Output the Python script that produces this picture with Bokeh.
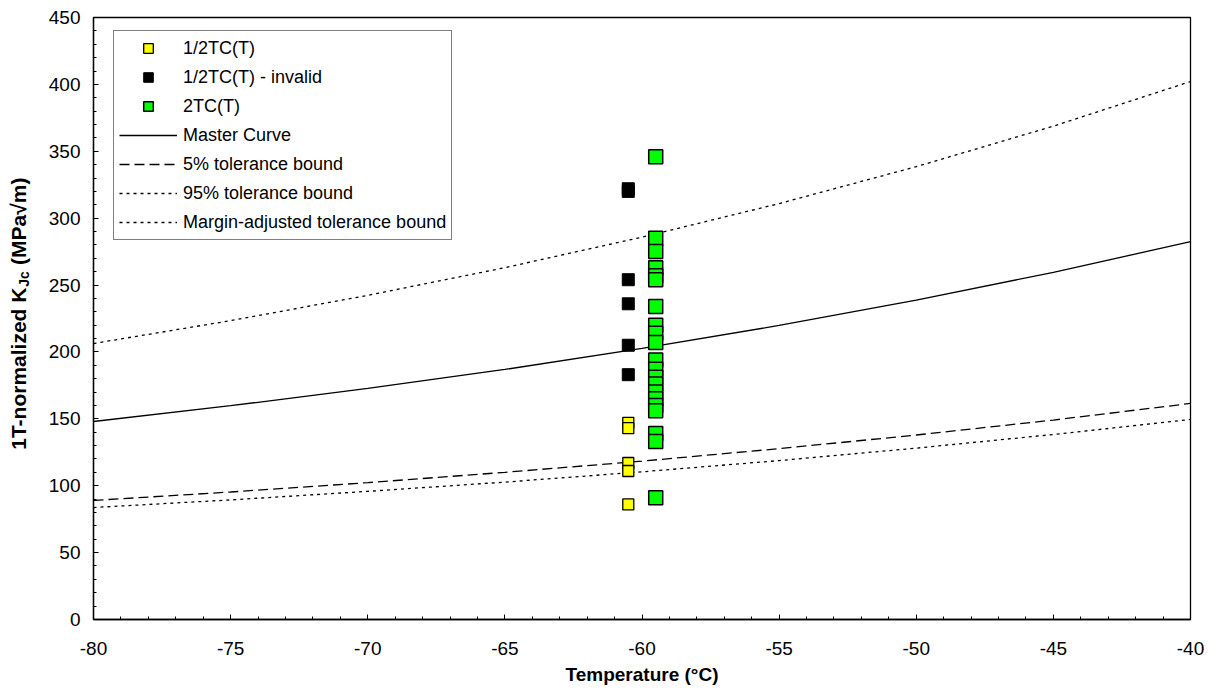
import math
from bokeh.plotting import figure
from bokeh.layouts import row
from bokeh.models import Range1d, FixedTicker, Legend, LegendItem, CustomJSTickFormatter
from bokeh.core.properties import value
from bokeh.embed import file_html
from bokeh.resources import INLINE

# ---- data ----
temp_curve = [-80, -75, -70, -65, -60, -55, -50, -45, -40]
master_curve = [148.0, 159.8, 172.7, 186.9, 202.6, 219.8, 238.7, 259.5, 282.4]
tol_5 = [89.0, 95.3, 102.3, 110.0, 118.4, 127.7, 137.9, 149.1, 161.5]
tol_95 = [206.3, 223.4, 242.3, 263.0, 285.8, 310.9, 338.5, 368.8, 402.1]
margin_adj = [83.7, 89.4, 95.8, 102.7, 110.4, 118.8, 128.1, 138.3, 149.5]

half_t_temp = -60.5
half_t_valid = [147, 143, 117, 111, 86]
half_t_invalid = [322, 320, 254, 236, 205, 183]
two_t_temp = -59.5
two_t = [346, 285, 275, 263, 257, 254, 234, 220, 214, 207, 194, 187, 181,
         176, 170, 165, 160, 156, 139, 133, 91]

x_ticks = [-80, -75, -70, -65, -60, -55, -50, -45, -40]
y_ticks = [0, 50, 100, 150, 200, 250, 300, 350, 400, 450]

y_title_parts = ["1T-normalized K", "Jc", "(MPa√m)"]
x_title = "Temperature (°C)"

FONT = "Liberation Sans"
LAB_W = 36
H = 691

p = figure(width=1217 - LAB_W, height=H, x_range=Range1d(-80, -40), y_range=Range1d(0, 450),
           output_backend="svg", toolbar_location=None,
           min_border_left=93 - LAB_W, min_border_right=27, min_border_top=17, min_border_bottom=72)
p.grid.visible = False
p.outline_line_color = "black"
p.outline_line_width = 1.3
p.background_fill_color = "white"
p.border_fill_color = "white"

fmt = CustomJSTickFormatter(code="return tick.toFixed(0);")
for ax in (p.xaxis[0], p.yaxis[0]):
    ax.axis_line_color = "black"
    ax.axis_line_width = 1.3
    ax.major_tick_in = 5
    ax.major_tick_out = 0
    ax.minor_tick_in = 3
    ax.minor_tick_out = 0
    ax.major_tick_line_color = "black"
    ax.minor_tick_line_color = "black"
    ax.major_label_text_font = FONT
    ax.major_label_text_font_size = "19px"
    ax.major_label_text_color = "black"
    ax.formatter = fmt

p.xaxis.ticker = FixedTicker(ticks=x_ticks, minor_ticks=list(range(-80, -39, 1)))
p.yaxis.ticker = FixedTicker(ticks=y_ticks, minor_ticks=list(range(0, 451, 10)))
p.xaxis.major_label_standoff = 22
p.yaxis.major_label_standoff = 13
p.xaxis.axis_label = x_title
p.xaxis.axis_label_text_font = FONT
p.xaxis.axis_label_text_font_style = "bold"
p.xaxis.axis_label_text_font_size = "19px"
p.xaxis.axis_label_standoff = 6
p.xaxis.axis_label_text_color = "black"

# curves
r_mc = p.line(temp_curve, master_curve, line_color="black", line_width=1.3)
r_5 = p.line(temp_curve, tol_5, line_color="black", line_width=1.3, line_dash="10 5")
r_95 = p.line(temp_curve, tol_95, line_color="black", line_width=1.3, line_dash="3 4")
r_ma = p.line(temp_curve, margin_adj, line_color="black", line_width=1.3, line_dash="3 4")

# points
r_y = p.scatter([half_t_temp] * len(half_t_valid), half_t_valid, marker="square", size=11,
                fill_color="#FFFF00", line_color="black", line_width=1.3)
r_b = p.scatter([half_t_temp] * len(half_t_invalid), half_t_invalid, marker="square", size=12,
                fill_color="black", line_color="black", line_width=1)
r_g = p.scatter([two_t_temp] * len(two_t), two_t, marker="square", size=14,
                fill_color="#00FF00", line_color="black", line_width=1.5)

legend = Legend(items=[
    LegendItem(label="1/2TC(T)", renderers=[r_y]),
    LegendItem(label="1/2TC(T) - invalid", renderers=[r_b]),
    LegendItem(label="2TC(T)", renderers=[r_g]),
    LegendItem(label="Master Curve", renderers=[r_mc]),
    LegendItem(label="5% tolerance bound", renderers=[r_5]),
    LegendItem(label="95% tolerance bound", renderers=[r_95]),
    LegendItem(label="Margin-adjusted tolerance bound", renderers=[r_ma]),
], location=(20, 602 - 15 - 208))
legend.label_text_font = FONT
legend.label_text_font_size = "18px"
legend.label_text_color = "black"
legend.glyph_width = 58
legend.glyph_height = 24
legend.label_height = 24
legend.spacing = 5
legend.padding = 5
legend.margin = 0
legend.label_standoff = 6
legend.border_line_color = "black"
legend.border_line_width = 1
legend.background_fill_color = "white"
legend.background_fill_alpha = 1
p.add_layout(legend)

# ---- y-axis title panel (rotated text with subscript) ----
lab = figure(width=LAB_W, height=H, x_range=Range1d(0, LAB_W), y_range=Range1d(0, H),
             output_backend="svg", toolbar_location=None, min_border=0)
lab.axis.visible = False
lab.grid.visible = False
lab.outline_line_color = None
lab.border_fill_color = "white"
lab.background_fill_color = "white"

anchor = H - 310          # canvas y ~310: end of "K", start of subscript
xs = [18, 23, 18]
ys = [anchor, anchor + 1, anchor + 26]
aligns = ["right", "left", "left"]
sizes = ["21px", "14px", "21px"]
for t, x, y, a, s in zip(y_title_parts, xs, ys, aligns, sizes):
    lab.text(x=[x], y=[y], text=[t], angle=math.pi / 2, text_font=value(FONT),
             text_font_style="bold", text_font_size=s, text_align=a,
             text_baseline="middle", text_color="black")

layout = row(lab, p, spacing=0)
open("out.html", "w").write(file_html(layout, INLINE))
